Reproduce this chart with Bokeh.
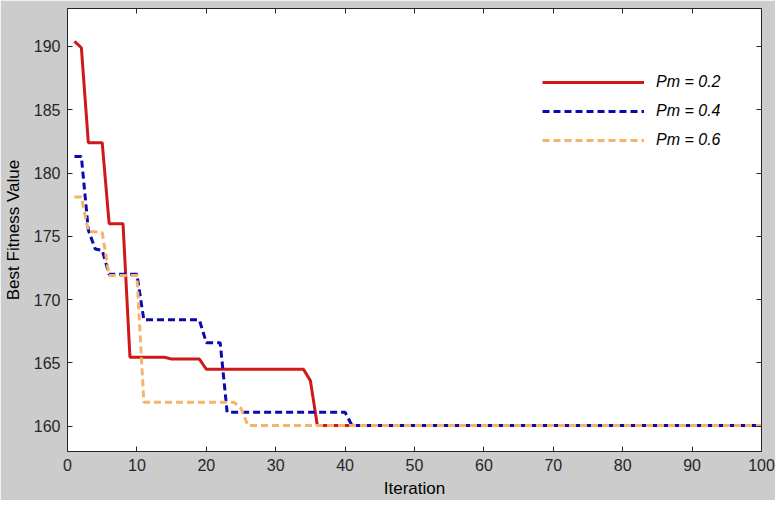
from bokeh.plotting import figure
from bokeh.models import LinearAxis, Legend, LegendItem, FixedTicker, Range1d
from bokeh.embed import file_html
from bokeh.resources import INLINE

# Data (vertices of the step curves)
labels = ["Pm = 0.2", "Pm = 0.4", "Pm = 0.6"]

red_iter = [1, 2, 3, 5, 6, 8, 9, 14, 15, 19, 20, 34, 35, 36, 100]
red_fit = [190.4, 189.9, 182.4, 182.4, 176.0, 176.0, 165.45, 165.45, 165.3,
           165.3, 164.5, 164.5, 163.6, 160.05, 160.05]

blue_iter = [1, 2, 3, 4, 5, 6, 10, 11, 19, 20, 22, 23, 40, 41, 100]
blue_fit = [181.3, 181.3, 175.5, 174.0, 173.9, 172.0, 172.0, 168.4, 168.4,
            166.6, 166.6, 161.1, 161.1, 160.05, 160.05]

orange_iter = [1, 2, 3, 5, 6, 10, 11, 24, 25, 26, 100]
orange_fit = [178.1, 178.1, 175.4, 175.3, 171.9, 171.9, 161.9, 161.9, 161.4,
              160.05, 160.05]

x_ticks = [0, 10, 20, 30, 40, 50, 60, 70, 80, 90, 100]
y_ticks = [160, 165, 170, 175, 180, 185, 190]

FONT = "Liberation Sans"
AXC = "#262626"

p = figure(width=775, height=500, x_range=Range1d(0, 100), y_range=Range1d(158, 193),
           output_backend="svg", toolbar_location=None,
           background_fill_color="white", border_fill_color="#cccccc",
           min_border_left=66, min_border_right=14, min_border_top=8, min_border_bottom=48)
p.outline_line_color = None
p.grid.visible = False

def style_axis(ax, show_labels):
    ax.axis_line_color = AXC
    ax.axis_line_width = 1
    ax.major_tick_line_color = AXC
    ax.major_tick_in = 5
    ax.major_tick_out = 0
    ax.minor_tick_line_color = None
    ax.major_label_text_font = FONT
    if show_labels:
        ax.major_label_text_color = AXC
        ax.major_label_text_font_size = "16px"
        ax.major_label_standoff = 7
    else:
        ax.major_label_text_color = None
        ax.major_label_text_font_size = "0px"
        ax.major_label_standoff = 0

p.xaxis.ticker = FixedTicker(ticks=x_ticks)
p.yaxis.ticker = FixedTicker(ticks=y_ticks)
style_axis(p.xaxis[0], True)
style_axis(p.yaxis[0], True)
p.xaxis.axis_label = "Iteration"
p.yaxis.axis_label = "Best Fitness Value"
for ax in (p.xaxis[0], p.yaxis[0]):
    ax.axis_label_text_font = FONT
    ax.axis_label_text_font_size = "17px"
    ax.axis_label_text_font_style = "normal"
    ax.axis_label_text_color = "black"
p.xaxis.axis_label_standoff = 5
p.yaxis.axis_label_standoff = 8

top = LinearAxis(ticker=FixedTicker(ticks=x_ticks))
right = LinearAxis(ticker=FixedTicker(ticks=y_ticks))
style_axis(top, False)
style_axis(right, False)
p.add_layout(top, "above")
p.add_layout(right, "right")

r1 = p.line(red_iter, red_fit, line_color="#d01818", line_width=3)
r2 = p.line(blue_iter, blue_fit, line_color="#0a0ab0", line_width=3, line_dash="7 4")
r3 = p.line(orange_iter, orange_fit, line_color="#f5b36c", line_width=3, line_dash="7 4")

legend = Legend(items=[LegendItem(label=labels[0], renderers=[r1]),
                       LegendItem(label=labels[1], renderers=[r2]),
                       LegendItem(label=labels[2], renderers=[r3])],
                location=(475, 301), border_line_color=None, background_fill_alpha=0,
                padding=0, margin=0, spacing=9, glyph_width=102, glyph_height=20,
                label_height=20, label_standoff=12,
                label_text_font=FONT, label_text_font_size="16px",
                label_text_font_style="italic", label_text_color="black")
p.add_layout(legend, "center")

open("out.html", "w").write(file_html(p, INLINE))
